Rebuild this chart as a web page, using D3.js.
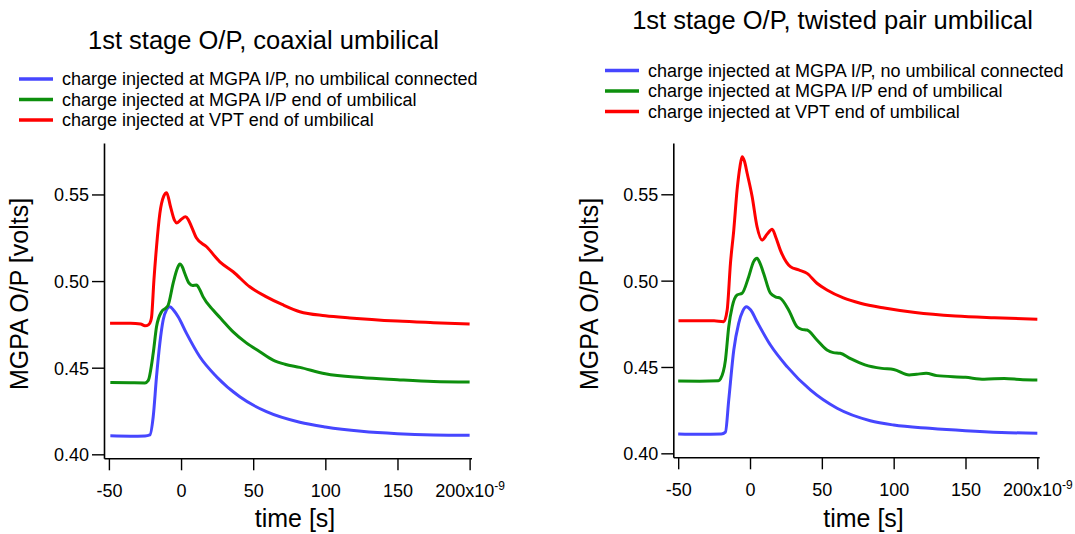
<!DOCTYPE html>
<html>
<head>
<meta charset="utf-8">
<script src="https://cdn.jsdelivr.net/npm/d3@7"></script>
<style>
  body { margin: 0; background: #fff; }
  svg { display: block; font-family: "Liberation Sans", Arial, sans-serif; }
</style>
</head>
<body>
<svg width="1075" height="534"></svg>
<script>
// DATA: [time (ns), volts]
const coaxBlue = [[-49,0.4107],[-35,0.4105],[-25,0.4106],[-21.6,0.4112],[-19.3,0.4217],[-17,0.4448],[-14.7,0.4641],[-12.4,0.4775],[-10,0.4835],[-7.8,0.4852],[-5,0.4830],[-2,0.4794],[3.8,0.4698],[13,0.4563],[24.6,0.4448],[40.7,0.4332],[59.2,0.4246],[82.3,0.4185],[100,0.4158],[125,0.4133],[150,0.4119],[175,0.4112],[200,0.4110]];
const coaxGreen = [[-49,0.4415],[-35,0.4413],[-25,0.4412],[-22.8,0.4425],[-19.3,0.4583],[-17,0.4736],[-13.5,0.4823],[-10.5,0.4845],[-8.9,0.4862],[-5.5,0.4987],[-2.5,0.5075],[-0.8,0.5098],[1,0.5080],[2.6,0.5044],[5.6,0.4987],[8,0.4975],[10.7,0.4977],[13,0.4950],[15.3,0.4909],[22.2,0.4833],[28,0.4780],[36.1,0.4707],[45,0.4645],[54.6,0.4592],[63.8,0.4544],[72,0.4520],[82.3,0.4502],[100,0.4465],[125,0.4443],[150,0.4431],[175,0.4421],[200,0.4417]];
const coaxRed = [[-49.2,0.4756],[-35,0.4756],[-28,0.4752],[-25,0.4742],[-22.5,0.4748],[-21,0.4770],[-20.4,0.4794],[-18.8,0.5006],[-17,0.5198],[-14.7,0.5390],[-12,0.5490],[-10,0.5510],[-7.3,0.5429],[-4.5,0.5350],[-2.9,0.5335],[0,0.5355],[3.1,0.5371],[5,0.5355],[7.3,0.5313],[10.7,0.5248],[17.7,0.5198],[26.9,0.5111],[36.1,0.5054],[47.6,0.4967],[59.2,0.4909],[70,0.4865],[82.3,0.4823],[100,0.4800],[117,0.4787],[150,0.4769],[175,0.4760],[200,0.4752]];

const twistBlue = [[-50,0.4112],[-35,0.4110],[-20,0.4112],[-17.1,0.4123],[-14.8,0.4309],[-11.3,0.4598],[-7.9,0.4753],[-5,0.4825],[-2.5,0.4849],[0.5,0.4830],[4.9,0.4762],[14.2,0.4627],[25.8,0.4502],[42,0.4367],[60.6,0.4261],[83.7,0.4189],[100,0.4164],[125,0.4145],[150,0.4131],[175,0.4121],[200,0.4116]];
const twistGreen = [[-50,0.4419],[-35,0.4418],[-22,0.4420],[-20.6,0.4430],[-17.1,0.4540],[-14.8,0.4733],[-12.4,0.4849],[-9,0.4917],[-5.5,0.4927],[-0.9,0.5023],[2.5,0.5110],[4.9,0.5129],[7,0.5100],[9.5,0.5042],[14.2,0.4927],[18,0.4905],[21.1,0.4898],[26.9,0.4830],[32.7,0.4733],[36,0.4718],[39.7,0.4714],[46.6,0.4656],[53.6,0.4598],[58,0.4583],[62.8,0.4579],[70,0.4548],[80,0.4512],[91.8,0.4492],[100,0.4486],[110.8,0.4454],[116,0.4458],[122.6,0.4463],[130,0.4450],[150,0.4440],[163,0.4429],[177,0.4434],[190,0.4426],[200,0.4425]];
const twistRed = [[-49.8,0.4768],[-35,0.4768],[-25,0.4767],[-18.3,0.4762],[-15.9,0.4830],[-13.6,0.5102],[-11.3,0.5293],[-9,0.5525],[-7,0.5660],[-5.5,0.5718],[-3.8,0.5690],[-2,0.5622],[1.5,0.5486],[4.9,0.5312],[8.4,0.5235],[12,0.5270],[15.4,0.5297],[18,0.5250],[21.1,0.5177],[28.1,0.5081],[33.9,0.5062],[39.7,0.5042],[46.6,0.4985],[53.6,0.4946],[65,0.4900],[76.8,0.4869],[93.5,0.4841],[115,0.4815],[143,0.4795],[170,0.4785],[200,0.4777]];

const legendLabels = [
  "charge injected at MGPA I/P, no umbilical connected",
  "charge injected at MGPA I/P end of umbilical",
  "charge injected at VPT end of umbilical"
];
const seriesColors = ["#4646ff", "#0d8f0d", "#ff0000"];
const xTicks = [-50, 0, 50, 100, 150, 200];
const yTicks = [0.40, 0.45, 0.50, 0.55];
const titles = ["1st stage O/P, coaxial umbilical", "1st stage O/P, twisted pair umbilical"];

const svg = d3.select("svg");
const xDomain = [-53.4, 201.3];
const yDomain = [0.3977, 0.5797];

const panels = [
  { series: [coaxBlue, coaxGreen, coaxRed], title: titles[0],
    xRange: [104, 471.5], yRange: [458.3, 143],
    titleX: 263.5, titleY: 49, legX: 19, legY: 79, yLabelX: 28 },
  { series: [twistBlue, twistGreen, twistRed], title: titles[1],
    xRange: [673.3, 1039.2], yRange: [457.3, 143],
    titleX: 832.5, titleY: 28.5, legX: 605, legY: 70.5, yLabelX: 598 }
];

panels.forEach(p => {
  const x = d3.scaleLinear().domain(xDomain).range(p.xRange);
  const y = d3.scaleLinear().domain(yDomain).range(p.yRange);
  const g = svg.append("g");

  // title
  g.append("text")
    .attr("x", p.titleX).attr("y", p.titleY)
    .attr("text-anchor", "middle")
    .attr("font-size", 25.5)
    .text(p.title);

  // legend
  legendLabels.forEach((lab, i) => {
    const ly = p.legY + i * 20.5;
    g.append("line")
      .attr("x1", p.legX).attr("x2", p.legX + 34)
      .attr("y1", ly).attr("y2", ly)
      .attr("stroke", seriesColors[i]).attr("stroke-width", 3.5);
    g.append("text")
      .attr("x", p.legX + 43).attr("y", ly + 6)
      .attr("font-size", 18)
      .text(lab);
  });

  // axes
  const yAxis = g.append("g")
    .attr("transform", `translate(${p.xRange[0]},0)`)
    .call(d3.axisLeft(y).tickValues(yTicks).tickSize(12).tickSizeOuter(0).tickPadding(3)
      .tickFormat(d3.format(".2f")));
  const xAxis = g.append("g")
    .attr("transform", `translate(0,${p.yRange[0]})`)
    .call(d3.axisBottom(x).tickValues(xTicks).tickSize(12).tickSizeOuter(0).tickPadding(10)
      .tickFormat(d => d));

  [yAxis, xAxis].forEach(a => {
    a.select(".domain").attr("stroke", "#000").attr("stroke-width", 1.6);
    a.selectAll(".tick line").attr("stroke", "#000").attr("stroke-width", 1.4);
    a.selectAll(".tick text").attr("fill", "#000").attr("font-size", 18)
      .attr("font-family", '"Liberation Sans", Arial, sans-serif');
  });
  yAxis.selectAll(".tick text").attr("dy", "0.36em");
  xAxis.selectAll(".tick text").attr("dy", "0.95em");

  // exponent on last tick
  xAxis.selectAll(".tick text").filter(d => d === 200)
    .text("200x10")
    .append("tspan")
    .attr("font-size", 12)
    .attr("dy", "-0.6em")
    .text("-9");

  // axis titles
  g.append("text")
    .attr("x", x(79)).attr("y", 527)
    .attr("text-anchor", "middle")
    .attr("font-size", 25)
    .text("time [s]");
  g.append("text")
    .attr("transform", `translate(${p.yLabelX},294) rotate(-90)`)
    .attr("text-anchor", "middle")
    .attr("font-size", 25)
    .text("MGPA O/P [volts]");

  // traces
  const line = d3.line()
    .x(d => x(d[0]))
    .y(d => y(d[1]))
    .curve(d3.curveMonotoneX);

  p.series.forEach((s, i) => {
    g.append("path")
      .datum(s)
      .attr("fill", "none")
      .attr("stroke", seriesColors[i])
      .attr("stroke-width", 3)
      .attr("stroke-linejoin", "round")
      .attr("d", line);
  });
});
</script>
</body>
</html>
